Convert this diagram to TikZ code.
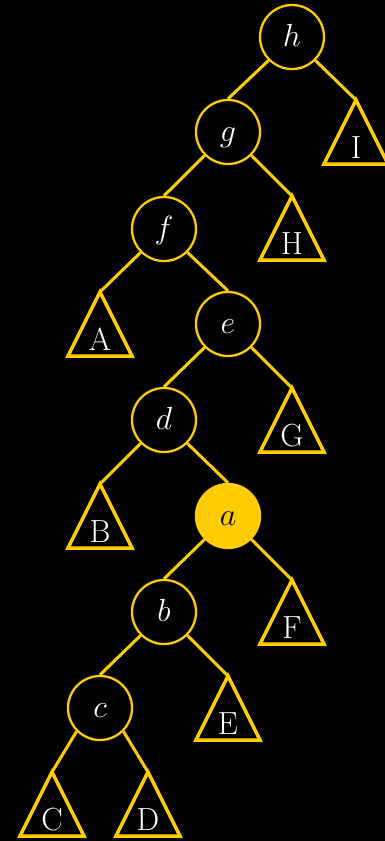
\RequirePackage{fix-cm}
\documentclass[tikz,border=0pt]{standalone}
\usepackage{tikz}
\definecolor{gold}{HTML}{FFCC00}
\tikzset{
  key/.style={circle, draw=gold, line width=2.3pt, fill=black, minimum size=64pt,
    inner sep=0pt, text=white, text height=22pt, text depth=4pt,
    font=\fontsize{32}{32}\selectfont},
  hot/.style={key, fill=gold, text=black},
  link/.style={draw=gold, line width=3pt},
  subtree/.style={draw=gold, line width=3.5pt},
  sublabel/.style={anchor=base, text=white, inner sep=0pt, font=\fontsize{32}{32}\selectfont},
}

\begin{document}
\begin{tikzpicture}[x=1pt, y=-1pt]
  \fill[black] (0,0) rectangle (385,841);
  \useasboundingbox (0,0) rectangle (385,841);
  % keys along the access path, a is the splayed node
  \foreach \n/\x/\y in {h/292/37, g/228/132, f/164/229, e/228/324, d/164/420, b/164/612, c/100/708}
    \node[key] (\n) at (\x,\y) {$\n$};
  \node[hot] (a) at (228,516) {$a$};
  % subtrees, named by their apex
  \foreach \t/\x/\y in {I/356/100, H/292/196, A/100/292, G/292/388, B/100/484, F/292/580, E/228/676, C/52/772, D/148/772} {
    \coordinate (\t) at (\x,\y);
    \draw[subtree] (\t) -- ++(-32,64) -- ++(64,0) -- cycle;
    \node[sublabel] (\t-lbl) at (\x,\y+58) {\t};
  }
  % links
  \draw[link] (h.south west) -- (g.north);
  \draw[link] (h.south east) -- (I);
  \draw[link] (g.south west) -- (f.north);
  \draw[link] (g.south east) -- (H);
  \draw[link] (f.south west) -- (A);
  \draw[link] (f.south east) -- (e.north);
  \draw[link] (e.south west) -- (d.north);
  \draw[link] (e.south east) -- (G);
  \draw[link] (d.south west) -- (B);
  \draw[link] (d.south east) -- (a.north);
  \draw[link] (a.south west) -- (b.north);
  \draw[link] (a.south east) -- (F);
  \draw[link] (b.south west) -- (c.north);
  \draw[link] (b.south east) -- (E);
  \draw[link] (c.south west) -- (C);
  \draw[link] (c.south east) -- (D);
\end{tikzpicture}
\end{document}
